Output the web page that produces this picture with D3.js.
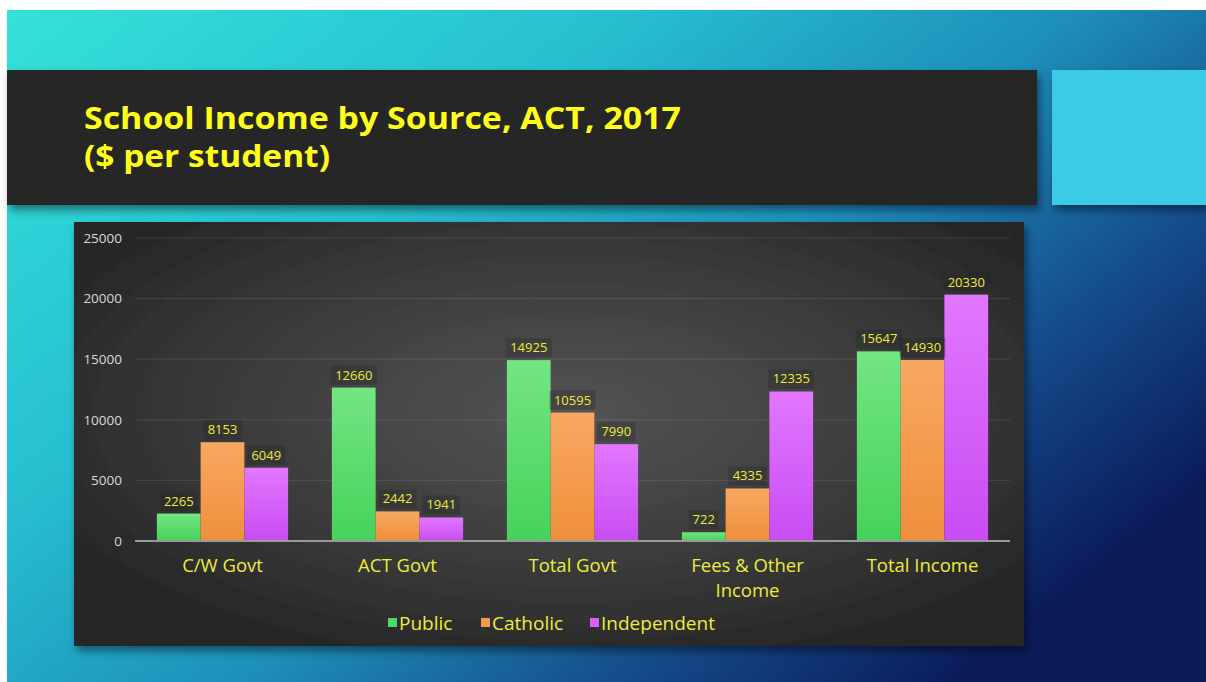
<!DOCTYPE html>
<html>
<head>
<meta charset="utf-8">
<script src="https://cdn.jsdelivr.net/npm/d3@7/dist/d3.min.js"></script>
<style>
  html, body { margin: 0; padding: 0; background: #fff; }
  svg { display: block; }
  text { font-family: "Open Sans", "Noto Sans", sans-serif; }
</style>
</head>
<body>
<svg id="chart" width="1206" height="682"></svg>
<script>
// Data: school income per student by source, ACT 2017
const categories = ["C/W Govt", "ACT Govt", "Total Govt", "Fees & Other Income", "Total Income"];
const categoryLines = [["C/W Govt"], ["ACT Govt"], ["Total Govt"], ["Fees & Other", "Income"], ["Total Income"]];
const seriesNames = ["Public", "Catholic", "Independent"];
const publicValues = [2265, 12660, 14925, 722, 15647];
const catholicValues = [8153, 2442, 10595, 4335, 14930];
const independentValues = [6049, 1941, 7990, 12335, 20330];
const yTicks = [0, 5000, 10000, 15000, 20000, 25000];
const titleLines = ["School Income by Source, ACT, 2017", "($ per student)"];

const seriesValues = [publicValues, catholicValues, independentValues];
const seriesColors = [
  { top: "#74e582", bottom: "#44d35a", key: "#4fd86a" },
  { top: "#f8a862", bottom: "#ef8f3a", key: "#f39a4c" },
  { top: "#e277ff", bottom: "#c84cf2", key: "#d861fa" }
];

const svg = d3.select("#chart");
const defs = svg.append("defs");

// Slide background
const bg = defs.append("linearGradient").attr("id", "slideBg")
  .attr("x1", 0).attr("y1", 0).attr("x2", 1).attr("y2", 0.7);
[["0", "#33e2d9"], ["0.35", "#27bfd0"], ["0.6", "#1d8fba"], ["0.8", "#154f8e"], ["1", "#0b1b5a"]]
  .forEach(([o, c]) => bg.append("stop").attr("offset", o).attr("stop-color", c));

// Chart panel radial shading
const panelBg = defs.append("radialGradient").attr("id", "panelBg")
  .attr("cx", "0.52").attr("cy", "0.45").attr("r", "0.62");
[["0", "#545454"], ["0.55", "#3c3c3c"], ["1", "#262626"]]
  .forEach(([o, c]) => panelBg.append("stop").attr("offset", o).attr("stop-color", c));

// Drop shadow for panels
const shadow = defs.append("filter").attr("id", "shadow")
  .attr("x", "-5%").attr("y", "-5%").attr("width", "115%").attr("height", "125%");
shadow.append("feDropShadow").attr("dx", 3).attr("dy", 5).attr("stdDeviation", 4)
  .attr("flood-color", "#000").attr("flood-opacity", 0.45);

// Bar gradients
seriesColors.forEach((c, i) => {
  const g = defs.append("linearGradient").attr("id", "bar" + i)
    .attr("x1", 0).attr("y1", 0).attr("x2", 0).attr("y2", 1);
  g.append("stop").attr("offset", "0").attr("stop-color", c.top);
  g.append("stop").attr("offset", "1").attr("stop-color", c.bottom);
});

svg.append("rect").attr("x", 7).attr("y", 10).attr("width", 1199).attr("height", 672)
  .attr("fill", "url(#slideBg)");

// Title band and accent box
svg.append("rect").attr("x", 7).attr("y", 70).attr("width", 1030).attr("height", 135)
  .attr("fill", "#262626").attr("filter", "url(#shadow)");
svg.append("rect").attr("x", 1052).attr("y", 70).attr("width", 154).attr("height", 135)
  .attr("fill", "#3acbe6").attr("filter", "url(#shadow)");

svg.append("text").attr("x", 84).attr("y", 129)
  .attr("fill", "#ffff1a").attr("font-size", 31).attr("font-weight", 700)
  .attr("textLength", 597).attr("lengthAdjust", "spacingAndGlyphs")
  .text(titleLines[0]);
svg.append("text").attr("x", 84).attr("y", 167)
  .attr("fill", "#ffff1a").attr("font-size", 31).attr("font-weight", 700)
  .attr("textLength", 246).attr("lengthAdjust", "spacingAndGlyphs")
  .text(titleLines[1]);

// Chart panel
svg.append("rect").attr("x", 74).attr("y", 222).attr("width", 950).attr("height", 424)
  .attr("fill", "url(#panelBg)").attr("filter", "url(#shadow)");

// Scales
const y = d3.scaleLinear().domain([0, 25000]).range([541, 238]);
const x0 = d3.scaleBand().domain(categories).range([135, 1010])
  .paddingInner(0.25).paddingOuter(0.125);
const x1 = d3.scaleBand().domain(seriesNames).range([0, x0.bandwidth()]).padding(0);

// Gridlines
svg.append("g").selectAll("line").data(yTicks.filter(t => t > 0)).join("line")
  .attr("x1", 135).attr("x2", 1010)
  .attr("y1", d => y(d)).attr("y2", d => y(d))
  .attr("stroke", "#ffffff").attr("stroke-opacity", 0.1).attr("stroke-width", 1);

// Y axis labels
const yAxis = d3.axisLeft(y).tickValues(yTicks).tickSize(0).tickPadding(0).tickFormat(d3.format("d"));
const yg = svg.append("g").attr("transform", "translate(122,0)").call(yAxis);
yg.select(".domain").remove();
yg.selectAll("text").attr("fill", "#d9d9d9").attr("font-size", 13.5)
  .attr("font-family", "\"Open Sans\", sans-serif");

// Bars
const groups = svg.append("g").selectAll("g").data(categories).join("g")
  .attr("transform", d => `translate(${x0(d)},0)`);

groups.each(function (cat, ci) {
  const g = d3.select(this);
  seriesNames.forEach((s, si) => {
    const v = seriesValues[si][ci];
    g.append("rect")
      .attr("x", x1(s)).attr("width", x1.bandwidth())
      .attr("y", y(v)).attr("height", y(0) - y(v))
      .attr("fill", `url(#bar${si})`);
  });
});

// Baseline
svg.append("line").attr("x1", 135).attr("x2", 1010).attr("y1", y(0)).attr("y2", y(0))
  .attr("stroke", "#9a9a9a").attr("stroke-width", 2);

// Value labels above bars, with faint dark backing boxes
groups.each(function (cat, ci) {
  const g = d3.select(this);
  seriesNames.forEach((s, si) => {
    const v = seriesValues[si][ci];
    const cx = x1(s) + x1.bandwidth() / 2;
    const w = String(v).length * 8 + 6;
    g.append("rect").attr("x", cx - w / 2).attr("y", y(v) - 22).attr("width", w).attr("height", 19)
      .attr("fill", "#262626").attr("fill-opacity", 0.3);
    g.append("text").attr("x", cx).attr("y", y(v) - 8)
      .attr("text-anchor", "middle").attr("fill", "#eded3a").attr("font-size", 13)
      .text(v);
  });
});

// Category labels (one text element per line)
const catLabels = svg.append("g");
categories.forEach((d, i) => {
  categoryLines[i].forEach((line, j) => {
    catLabels.append("text")
      .attr("x", x0(d) + x0.bandwidth() / 2)
      .attr("y", 572 + j * 24.5)
      .attr("text-anchor", "middle").attr("fill", "#eded3a").attr("font-size", 18.5)
      .text(line);
  });
});

// Legend
const legendX = [388, 481, 590];
const legend = svg.append("g").selectAll("g").data(seriesNames).join("g")
  .attr("transform", (d, i) => `translate(${legendX[i]},623)`);
legend.append("rect").attr("x", 0).attr("y", -5).attr("width", 9).attr("height", 9)
  .attr("fill", (d, i) => seriesColors[i].key);
legend.append("text").attr("x", 11).attr("y", 7)
  .attr("fill", "#eded3a").attr("font-size", 19).text(d => d);
</script>
</body>
</html>
